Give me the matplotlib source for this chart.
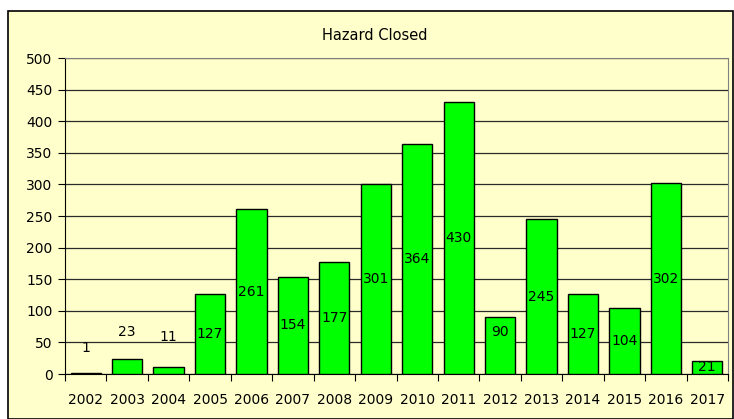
import matplotlib
matplotlib.use("Agg")
import matplotlib.pyplot as plt
from matplotlib.patches import Rectangle
import numpy as np

# data
years = ["2002", "2003", "2004", "2005", "2006", "2007", "2008", "2009",
         "2010", "2011", "2012", "2013", "2014", "2015", "2016", "2017"]
closed = [1, 23, 11, 127, 261, 154, 177, 301, 364, 430, 90, 245, 127, 104, 302, 21]
# label heights where Excel did not put the label at mid-bar
label_y_override = {0: 41, 1: 66, 2: 58, 10: 66}

BG = "#FFFFCC"

fig = plt.figure(figsize=(7.34, 4.19), dpi=100)
fig.patch.set_facecolor("white")
fig.patches.append(Rectangle((8 / 734, 0), 725 / 734, 408 / 419,
                             transform=fig.transFigure, facecolor=BG,
                             edgecolor="black", linewidth=1.2, zorder=-10))

ax = fig.add_axes([65 / 734, 45 / 419, 663 / 734, 316 / 419])
ax.set_facecolor(BG)

x = np.arange(len(years))
ax.bar(x, closed, width=0.73, color="#00FF00", edgecolor="black",
       linewidth=1.0, zorder=3)

for i, v in enumerate(closed):
    y = label_y_override.get(i, v / 2)
    ax.text(i, y, str(v), ha="center", va="center", fontsize=10,
            color="black", zorder=4)

ax.set_xlim(-0.5, len(years) - 0.5)
ax.set_ylim(0, 500)
ax.set_yticks(np.arange(0, 501, 50))
ax.yaxis.grid(True, color="#2a2a2a", linewidth=0.9, zorder=1)
ax.set_axisbelow(True)

# ticks at category boundaries, labels in between
ax.set_xticks(np.arange(-0.5, len(years), 1.0))
ax.set_xticklabels([])
ax.set_xticks(x, minor=True)
ax.set_xticklabels(years, minor=True)
ax.tick_params(axis="x", which="minor", length=0, pad=14, labelsize=10)
ax.tick_params(axis="x", which="major", length=5, direction="out")
ax.tick_params(axis="y", length=5, direction="out", labelsize=10, pad=4)

for s in ["top", "right"]:
    ax.spines[s].set_color("#808080")
for s in ["left", "bottom"]:
    ax.spines[s].set_color("black")

fig.text(375 / 734, 1 - 35 / 419, "Hazard Closed", ha="center", va="center",
         fontsize=10.5)

fig.savefig("out.png", dpi=100)
